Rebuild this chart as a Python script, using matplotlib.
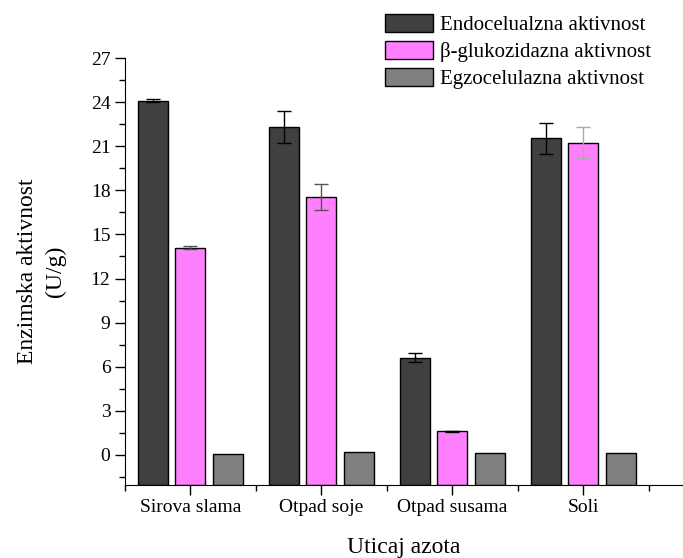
import numpy as np
import matplotlib.pyplot as plt
from matplotlib.ticker import MultipleLocator, FixedLocator

plt.rcParams['font.family'] = ['Liberation Serif', 'DejaVu Serif']

categories = ['Sirova slama', 'Otpad soje', 'Otpad susama', 'Soli']
series_names = ['Endocelualzna aktivnost', 'β-glukozidazna aktivnost', 'Egzocelulazna aktivnost']
endo = [24.1, 22.3, 6.6, 21.55]
endo_err = [0.08, 1.1, 0.3, 1.05]
beta = [14.1, 17.55, 1.6, 21.25]
beta_err = [0.12, 0.9, 0.04, 1.05]
egzo = [0.05, 0.22, 0.16, 0.12]
egzo_err = [0, 0, 0, 0]

y_min, y_max = -2.04, 27

colors = ['#404040', '#ff80ff', '#808080']
err_colors = [['black', 'black', 'black', 'black'],
              ['#555555', '#555555', 'black', '#aaaaaa'],
              ['black'] * 4]

fig = plt.figure(figsize=(6.83, 5.58), dpi=100)
ax = fig.add_axes([0.183, 0.131, 0.817, 0.765])

x = np.arange(len(categories))
offset = 0.286
width = 0.229
data = [(endo, endo_err), (beta, beta_err), (egzo, egzo_err)]
handles = []
for i, (vals, errs) in enumerate(data):
    pos = x + (i - 1) * offset
    # bars start at the bottom of the axis, as in the original
    heights = np.array(vals) - y_min
    b = ax.bar(pos, heights, width, bottom=y_min, color=colors[i], edgecolor='black',
               linewidth=1.0, label=series_names[i])
    handles.append(b)
    for p, v, e, c in zip(pos, vals, errs, err_colors[i]):
        if e > 0:
            ax.errorbar(p, v, yerr=e, fmt='none', ecolor=c, elinewidth=1, capsize=5, capthick=1)

ax.set_xlim(-0.5, 3.76)
ax.set_ylim(y_min, y_max)
ax.yaxis.set_major_locator(MultipleLocator(3))
ax.yaxis.set_minor_locator(MultipleLocator(1.5))
ax.set_xticks(x)
ax.set_xticklabels(categories)
ax.xaxis.set_minor_locator(FixedLocator([-0.5, 0.5, 1.5, 2.5, 3.5]))
for s in ['top', 'right']:
    ax.spines[s].set_visible(False)
ax.tick_params(axis='both', which='major', direction='out', length=7, width=1, labelsize=14)
ax.tick_params(axis='both', which='minor', direction='out', length=4, width=1)

ax.set_ylabel('Enzimska aktivnost\n(U/g)', fontsize=17, labelpad=18, linespacing=1.4)
ax.set_xlabel('Uticaj azota', fontsize=17, labelpad=15)

fig.legend(handles=handles, labels=series_names, loc='upper left',
           bbox_to_anchor=(0.542, 1.001), frameon=False, fontsize=15,
           handlelength=2.3, handleheight=0.95, handletextpad=0.35, labelspacing=0.28,
           borderaxespad=0.3)

fig.savefig('out.png', dpi=100)
